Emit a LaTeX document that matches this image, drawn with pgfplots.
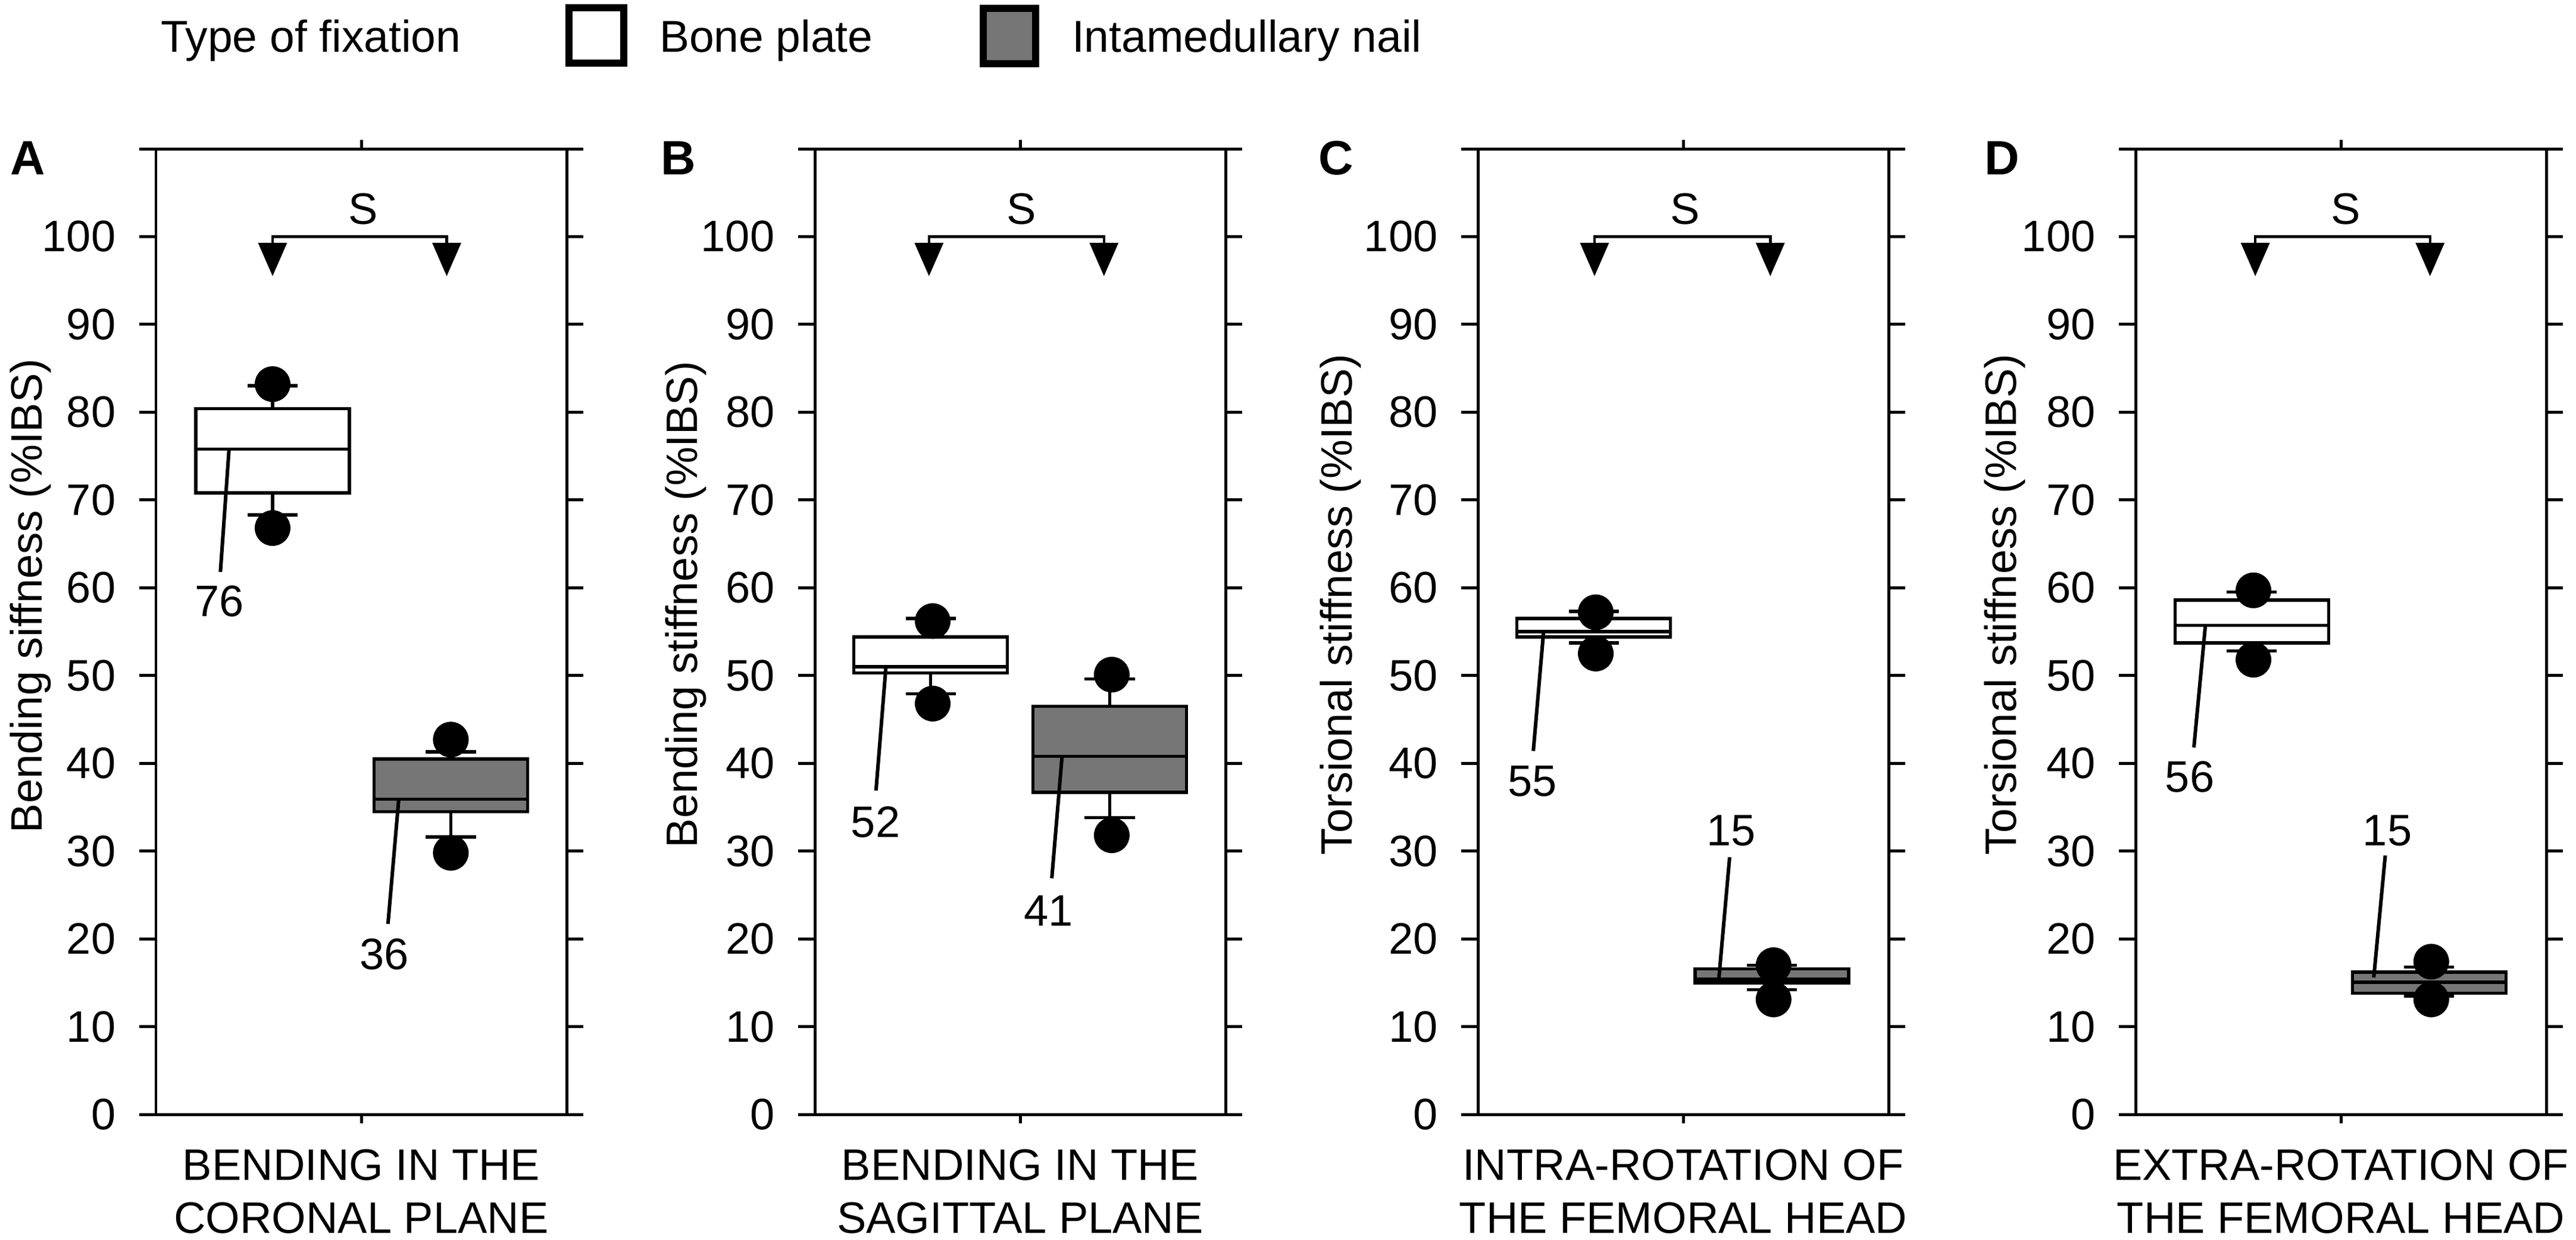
\documentclass[border=0pt]{standalone}
\usepackage{fontspec}
\setmainfont{Liberation Sans}
\usepackage{pgfplots}
\pgfplotsset{compat=1.18}
\usepgfplotslibrary{statistics}
\definecolor{nailgray}{RGB}{118,118,118}
\newcommand{\fs}{\fontsize{7.4bp}{8.9bp}\selectfont}
\newcommand{\fl}{\fontsize{7.5bp}{9bp}\selectfont}

\pgfplotsset{
  panel/.style={
    scale only axis, width=69bp, height=162.2bp, anchor=south west,
    xmin=0, xmax=1, ymin=0, ymax=110,
    boxplot/draw direction=y,
    boxplot/every box/.style={draw=black, line width=0.55bp},
    boxplot/every median/.style={draw=black, line width=0.55bp},
    boxplot/every whisker/.style={draw=black, line width=0.55bp},
    xtick=\empty,
    ytick={0,10,20,30,40,50,60,70,80,90,100,110},
    yticklabels={0,10,20,30,40,50,60,70,80,90,100,{}},
    ytick pos=both, yticklabel pos=left,
    tick align=outside, major tick length=2.8bp,
    major tick style={black, line width=0.5bp},
    axis line style={black, line width=0.5bp},
    tick label style={font=\fs},
    yticklabel style={xshift=-0.45bp},
    /pgf/number format/assume math mode=true,
    label style={font=\fs},
    ylabel style={anchor=center},
    xlabel style={align=center, anchor=north, at={(axis description cs:0.5,0)}, yshift=-2.4bp},
    clip=false,
  },
  wbox/.style={boxplot prepared={#1, box extend=0.374, whisker extend=0.122},
    draw=black, line width=0.55bp, fill=white, solid},
  gbox/.style={boxplot prepared={#1, box extend=0.374, whisker extend=0.122},
    draw=black, line width=0.55bp, fill=nailgray, solid},
  dots/.style={only marks, mark=*, mark size=2.8bp, black, mark options={solid, fill=black}},
  leader/.style={black, line width=0.6bp, solid},
  bracket/.style={black, line width=0.45bp, solid},
  tri/.style={fill=black, draw=none},
}

\begin{document}
\begin{tikzpicture}
\useasboundingbox (0,0) rectangle (432.8bp,-208.3bp);

% ---------------- Panel A ----------------
\begin{axis}[panel, at={(26.2bp,-187.2bp)},
  ylabel={Bending siffness (\%IBS)},
  ylabel style={at={(axis description cs:-0.306,0.537)}},
  xlabel={BENDING IN THE\\CORONAL PLANE}]
\addplot[wbox={draw position=0.284, lower whisker=68.3, lower quartile=70.8, median=75.8, upper quartile=80.4, upper whisker=83.0}] coordinates {};
\addplot[gbox={draw position=0.718, lower whisker=31.6, lower quartile=34.5, median=35.9, upper quartile=40.5, upper whisker=41.3}] coordinates {};
\addplot[dots] coordinates {(0.284,83.2) (0.284,66.8) (0.718,42.7) (0.718,29.8)};
\addplot[leader] coordinates {(0.178,75.8) (0.157,61.8)};
\addplot[leader] coordinates {(0.591,35.8) (0.565,21.7)};
\node[font=\fs, anchor=base, inner sep=0] at (axis cs:0.155,56.7) {76};
\node[font=\fs, anchor=base, inner sep=0] at (axis cs:0.556,16.5) {36};
\addplot[bracket] coordinates {(0.284,99.3) (0.284,100) (0.708,100) (0.708,99.3)};
\addplot[tri] coordinates {(0.2485,99.3) (0.3195,99.3) (0.284,95.5)};
\addplot[tri] coordinates {(0.6725,99.3) (0.7435,99.3) (0.708,95.5)};
\node[font=\fs, anchor=base, inner sep=0] at (axis cs:0.505,101.4) {S};
\draw[line width=0.5bp] (axis cs:0.5,110) -- ++(0,1.5bp);
\draw[line width=0.5bp] (axis cs:0.5,0) -- ++(0,-1.5bp);
\end{axis}

% ---------------- Panel B ----------------
\begin{axis}[panel, at={(136.9bp,-187.2bp)},
  ylabel={Bending stiffness (\%IBS)},
  ylabel style={at={(axis description cs:-0.314,0.528)}},
  xlabel={BENDING IN THE\\SAGITTAL PLANE}]
\addplot[wbox={draw position=0.282, lower whisker=47.9, lower quartile=50.3, median=51.0, upper quartile=54.4, upper whisker=56.5}] coordinates {};
\addplot[gbox={draw position=0.718, lower whisker=33.8, lower quartile=36.7, median=40.8, upper quartile=46.5, upper whisker=49.6}] coordinates {};
\addplot[dots] coordinates {(0.287,56.2) (0.287,46.8) (0.723,50.1) (0.723,31.8)};
\addplot[leader] coordinates {(0.173,50.9) (0.149,36.9)};
\addplot[leader] coordinates {(0.602,40.8) (0.577,26.9)};
\node[font=\fs, anchor=base, inner sep=0] at (axis cs:0.148,31.6) {52};
\node[font=\fs, anchor=base, inner sep=0] at (axis cs:0.569,21.5) {41};
\addplot[bracket] coordinates {(0.278,99.3) (0.278,100) (0.704,100) (0.704,99.3)};
\addplot[tri] coordinates {(0.2425,99.3) (0.3135,99.3) (0.278,95.5)};
\addplot[tri] coordinates {(0.6685,99.3) (0.7395,99.3) (0.704,95.5)};
\node[font=\fs, anchor=base, inner sep=0] at (axis cs:0.503,101.4) {S};
\draw[line width=0.5bp] (axis cs:0.5,110) -- ++(0,1.5bp);
\draw[line width=0.5bp] (axis cs:0.5,0) -- ++(0,-1.5bp);
\end{axis}

% ---------------- Panel C ----------------
\begin{axis}[panel, at={(248.3bp,-187.2bp)},
  ylabel={Torsional stiffness (\%IBS)},
  ylabel style={at={(axis description cs:-0.335,0.528)}},
  xlabel={INTRA-ROTATION OF\\THE FEMORAL HEAD}]
\addplot[wbox={draw position=0.282, lower whisker=53.7, lower quartile=54.4, median=55.0, upper quartile=56.5, upper whisker=57.3}] coordinates {};
\addplot[gbox={draw position=0.716, lower whisker=14.2, lower quartile=15.0, median=15.4, upper quartile=16.6, upper whisker=17.0}] coordinates {};
\addplot[dots] coordinates {(0.287,57.2) (0.287,52.5) (0.72,17.0) (0.72,13.1)};
\addplot[leader] coordinates {(0.160,55.0) (0.135,41.4)};
\addplot[leader] coordinates {(0.587,15.6) (0.613,29.3)};
\node[font=\fs, anchor=base, inner sep=0] at (axis cs:0.133,36.25) {55};
\node[font=\fs, anchor=base, inner sep=0] at (axis cs:0.617,30.6) {15};
\addplot[bracket] coordinates {(0.284,99.3) (0.284,100) (0.712,100) (0.712,99.3)};
\addplot[tri] coordinates {(0.2485,99.3) (0.3195,99.3) (0.284,95.5)};
\addplot[tri] coordinates {(0.6765,99.3) (0.7475,99.3) (0.712,95.5)};
\node[font=\fs, anchor=base, inner sep=0] at (axis cs:0.505,101.4) {S};
\draw[line width=0.5bp] (axis cs:0.5,110) -- ++(0,1.5bp);
\draw[line width=0.5bp] (axis cs:0.5,0) -- ++(0,-1.5bp);
\end{axis}

% ---------------- Panel D ----------------
\begin{axis}[panel, at={(358.8bp,-187.2bp)},
  ylabel={Torsional stiffness (\%IBS)},
  ylabel style={at={(axis description cs:-0.319,0.528)}},
  xlabel={EXTRA-ROTATION OF\\THE FEMORAL HEAD}]
\addplot[wbox={draw position=0.283, lower whisker=52.8, lower quartile=53.7, median=55.7, upper quartile=58.6, upper whisker=59.5}] coordinates {};
\addplot[gbox={draw position=0.715, lower whisker=13.5, lower quartile=13.8, median=15.05, upper quartile=16.2, upper whisker=16.8}] coordinates {};
\addplot[dots] coordinates {(0.287,59.7) (0.287,51.8) (0.72,17.4) (0.72,13.1)};
\addplot[leader] coordinates {(0.170,55.7) (0.142,41.8)};
\addplot[leader] coordinates {(0.580,15.6) (0.608,29.5)};
\node[font=\fs, anchor=base, inner sep=0] at (axis cs:0.132,36.75) {56};
\node[font=\fs, anchor=base, inner sep=0] at (axis cs:0.613,30.6) {15};
\addplot[bracket] coordinates {(0.2915,99.3) (0.2915,100) (0.717,100) (0.717,99.3)};
\addplot[tri] coordinates {(0.256,99.3) (0.327,99.3) (0.2915,95.5)};
\addplot[tri] coordinates {(0.6815,99.3) (0.7525,99.3) (0.717,95.5)};
\node[font=\fs, anchor=base, inner sep=0] at (axis cs:0.512,101.4) {S};
\draw[line width=0.5bp] (axis cs:0.5,110) -- ++(0,1.5bp);
\draw[line width=0.5bp] (axis cs:0.5,0) -- ++(0,-1.5bp);
\end{axis}

% ---------------- Panel letters ----------------
\node[font=\fontsize{8.1bp}{9.7bp}\selectfont\bfseries, anchor=base west, inner sep=0] at (1.6bp,-29.3bp) {A};
\node[font=\fontsize{8.1bp}{9.7bp}\selectfont\bfseries, anchor=base west, inner sep=0] at (110.8bp,-29.3bp) {B};
\node[font=\fontsize{8.1bp}{9.7bp}\selectfont\bfseries, anchor=base west, inner sep=0] at (221.3bp,-29.3bp) {C};
\node[font=\fontsize{8.1bp}{9.7bp}\selectfont\bfseries, anchor=base west, inner sep=0] at (333.2bp,-29.3bp) {D};

% ---------------- Legend ----------------
\node[font=\fl, anchor=base west, inner sep=0] at (26.8bp,-8.75bp) {Type of fixation};
\draw[line width=1.2bp, fill=white] (95.6bp,-1.3bp) rectangle (104.8bp,-10.6bp);
\node[font=\fl, anchor=base west, inner sep=0] at (110.6bp,-8.75bp) {Bone plate};
\draw[line width=1.2bp, fill=nailgray] (165.2bp,-1.4bp) rectangle (174.0bp,-10.7bp);
\node[font=\fl, anchor=base west, inner sep=0] at (179.9bp,-8.75bp) {Intamedullary nail};
\end{tikzpicture}
\end{document}
